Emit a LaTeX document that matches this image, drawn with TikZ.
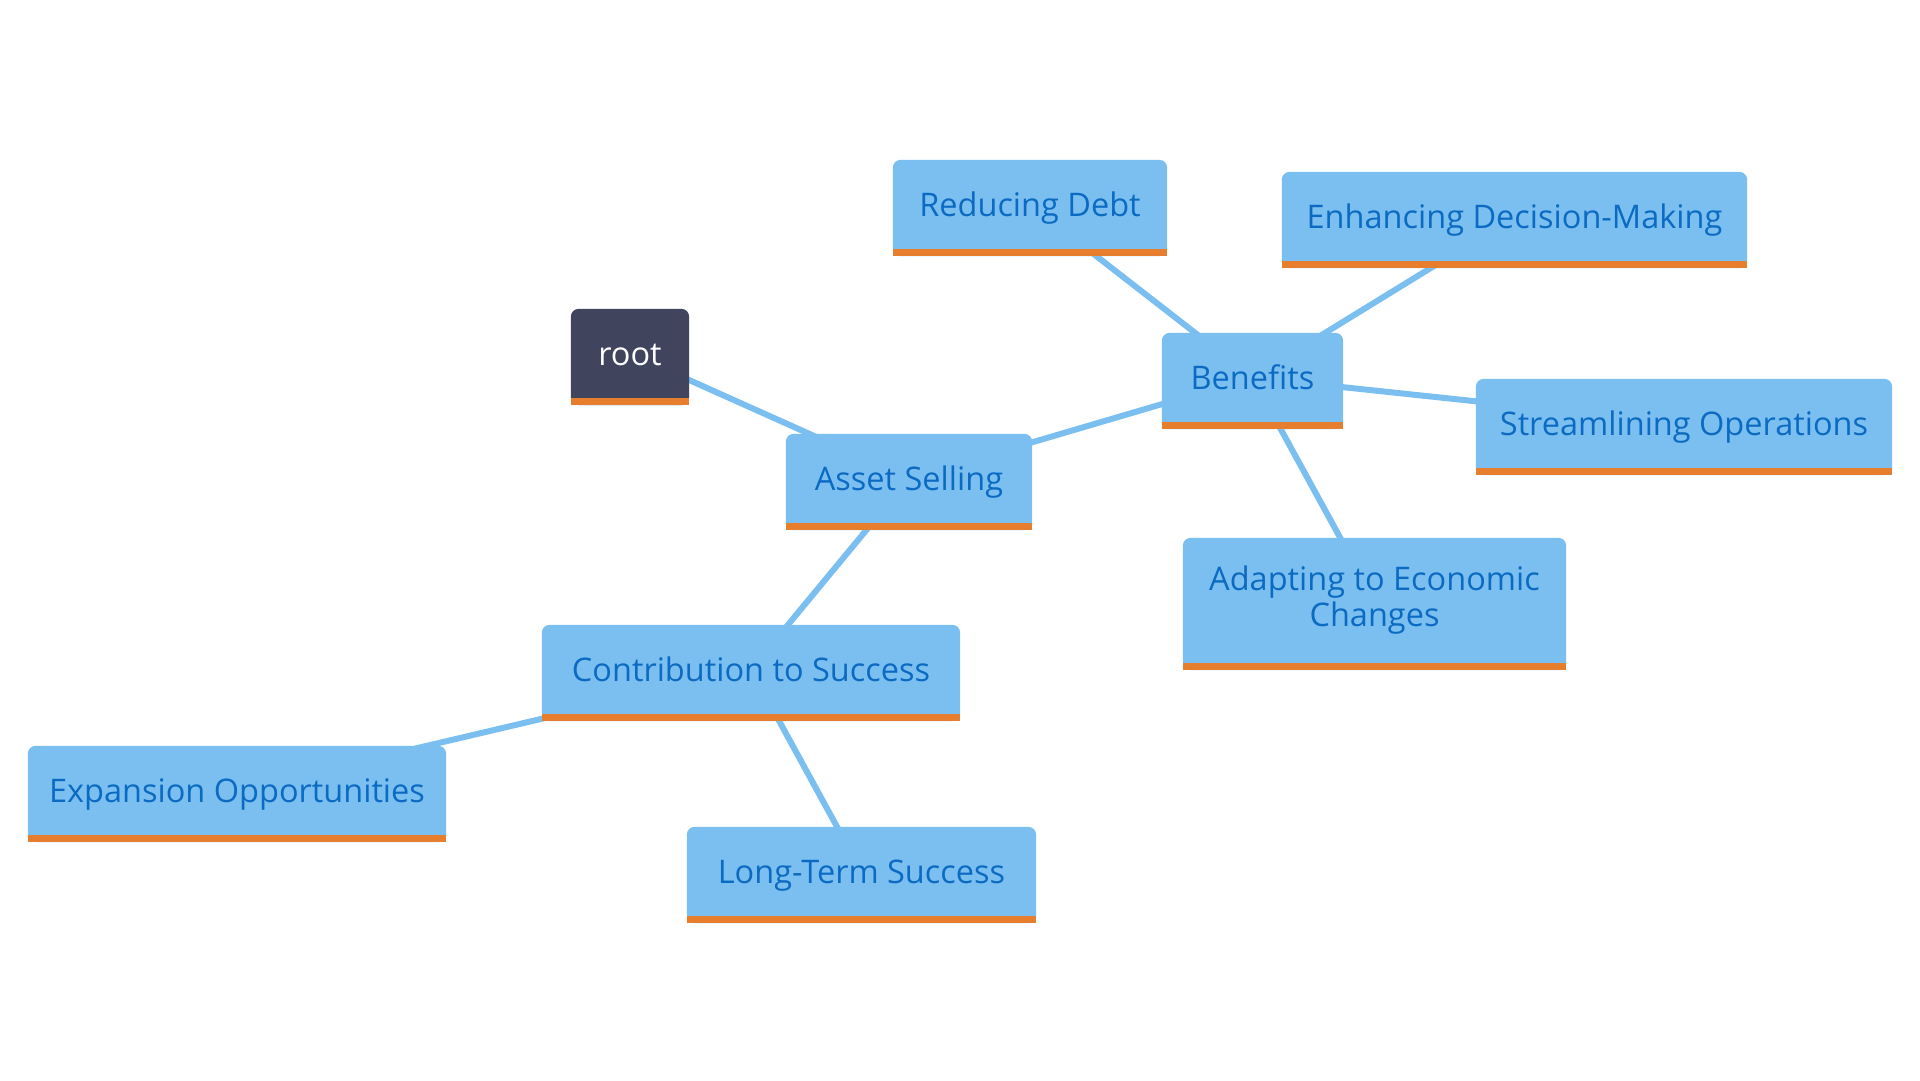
\documentclass[tikz,border=0pt]{standalone}
\usepackage{fontspec}
\setmainfont{Open Sans}
\usetikzlibrary{backgrounds}
\definecolor{nodeblue}{HTML}{7BBFF1}
\definecolor{textblue}{HTML}{0B6BC2}
\definecolor{bandorange}{HTML}{E67E2E}
\definecolor{rootdark}{HTML}{40455D}
\tikzset{
  x=1pt, y=1pt,
  mm/.style={inner sep=0pt, font=\fontsize{32.5}{38}\selectfont, text=textblue, align=center},
  oneline/.style={mm, text height=23.2pt, text depth=0pt},
  rootnode/.style={oneline, text=white},
  link/.style={draw=nodeblue, line width=6pt},
}
\begin{document}
\begin{tikzpicture}
\useasboundingbox (0,0) rectangle (1920,-1080);
\node[rootnode, minimum width=118, minimum height=89] (root) at (630,-353.5) {root};
\node[oneline, minimum width=246, minimum height=89] (asset) at (909,-478.5) {Asset Selling};
\node[oneline, minimum width=181, minimum height=89] (benefits) at (1252.5,-377.5) {Benefits};
\node[oneline, minimum width=274, minimum height=89] (reducing) at (1030,-204.5) {Reducing Debt};
\node[oneline, minimum width=465, minimum height=89] (enhancing) at (1514.5,-216.5) {Enhancing Decision-Making};
\node[oneline, minimum width=416, minimum height=89] (streamlining) at (1684,-423.5) {Streamlining Operations};
\node[mm, minimum width=383, minimum height=125] (adapting) at (1374.5,-600.5) {Adapting to Economic\\[-2pt]Changes};
\node[oneline, minimum width=418, minimum height=89] (contribution) at (751,-669.5) {Contribution to Success};
\node[oneline, minimum width=418, minimum height=89] (expansion) at (237,-790.5) {Expansion Opportunities};
\node[oneline, minimum width=349, minimum height=89] (longterm) at (861.5,-871.5) {Long-Term Success};
\begin{scope}[on background layer]
  \draw[link] (root.center) -- (asset.center);
  \draw[link] (asset.center) -- (benefits.center);
  \draw[link] (benefits.center) -- (reducing.center);
  \draw[link] (benefits.center) -- (enhancing.center);
  \draw[link] (benefits.center) -- (streamlining.center);
  \draw[link] (benefits.center) -- (adapting.center);
  \draw[link] (asset.center) -- (contribution.center);
  \draw[link] (contribution.center) -- (expansion.center);
  \draw[link] (contribution.center) -- (longterm.center);
  \fill[rootdark, rounded corners=8pt] ([yshift=-7pt]root.south west) rectangle (root.north east);
  \fill[bandorange] ([yshift=-7pt]root.south west) rectangle (root.south east);
  \foreach \n in {asset,benefits,reducing,enhancing,streamlining,adapting,contribution,expansion,longterm}{
    \fill[nodeblue, rounded corners=8pt] ([yshift=-7pt]\n.south west) rectangle (\n.north east);
    \fill[bandorange] ([yshift=-7pt]\n.south west) rectangle (\n.south east);
  }
\end{scope}
\end{tikzpicture}
\end{document}
